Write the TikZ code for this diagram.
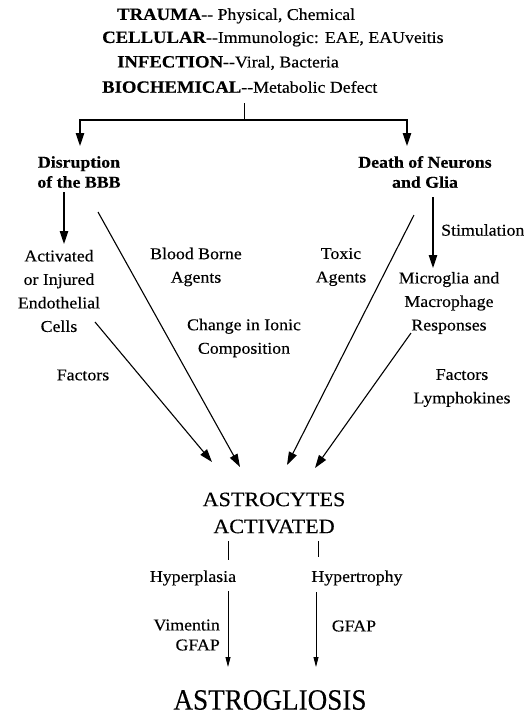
\documentclass[tikz,border=0pt]{standalone}
\usepackage{fontspec}
\setmainfont{Liberation Serif}
\newfontfamily\widefont[FakeStretch=1.08,FakeBold=0.3]{Liberation Serif}
\newfontfamily\narrowfont[FakeStretch=0.92,FakeBold=0.3]{Liberation Serif}
\usetikzlibrary{arrows.meta}

% bold heading word of a cause line
\newcommand\capword[1]{{\fontsize{17.3}{20}\selectfont\bfseries #1}}

\tikzset{
  lbl/.style={inner sep=0pt, align=center, font=\widefont\fontsize{16.5}{23.5}\selectfont},
  toprow/.style={lbl, anchor=west},
  headlbl/.style={lbl, font=\widefont\bfseries\fontsize{16.5}{20}\selectfont},
  biglbl/.style={lbl, font=\widefont\fontsize{20.5}{27}\selectfont},
  hugelbl/.style={lbl, font=\narrowfont\fontsize{29.5}{32}\selectfont},
  plain/.style={line width=1pt},
  arr/.style={line width=1.1pt, -{Triangle[length=13pt,width=8.5pt]}},
  thinarr/.style={line width=0.9pt, -{Triangle[length=10pt,width=5pt]}}
}

\begin{document}
\begin{tikzpicture}[x=1pt,y=-1pt]
\useasboundingbox[fill=white] (0,0) rectangle (523,715);

% causes
\node[toprow] (trauma)    at (117,16) {\capword{TRAUMA}-{}- Physical, Chemical};
\node[toprow] (cellular)  at (102,39) {\capword{CELLULAR}-{}-Immunologic: EAE, EAUveitis};
\node[toprow] (infection) at (117,63) {\capword{INFECTION}-{}-Viral, Bacteria};
\node[toprow] (biochem)   at (102,87) {\capword{BIOCHEMICAL}-{}-Metabolic Defect};

% first-level consequences
\node[headlbl] (bbb)   at (79,172)  {Disruption\\of the BBB};
\node[headlbl] (death) at (425,172) {Death of Neurons\\and Glia};

% mediators
\node[lbl] (endo)  at (59,291)  {Activated\\or Injured\\Endothelial\\Cells};
\node[lbl] (blood) at (196,267) {Blood Borne\\Agents};
\node[lbl] (ionic) at (244,338) {Change in Ionic\\Composition};
\node[lbl] (factL) at (83,375)  {Factors};
\node[lbl] (toxic) at (341,267) {Toxic\\Agents};
\node[lbl, anchor=west] (stim) at (441,230) {Stimulation};
\node[lbl] (micro) at (449,303) {Microglia and\\Macrophage\\Responses};
\node[lbl] (factR) at (462,388) {Factors\\Lymphokines};

% outcome
\node[biglbl] (astro)  at (274,513) {ASTROCYTES\\ACTIVATED};
\node[lbl] (hplas)  at (193,578) {Hyperplasia};
\node[lbl] (htroph) at (357,578) {Hypertrophy};
\node[lbl, align=right, anchor=east, font=\widefont\fontsize{16.5}{20}\selectfont] (vim) at (220,635) {Vimentin\\GFAP};
\node[lbl] (gfapR) at (354,626) {GFAP};
\node[hugelbl] (gliosis) at (270,700) {ASTROGLIOSIS};

% connection points
\coordinate (forkTop)   at (244,103);
\coordinate (fork)      at (244,120);
\coordinate (toBBB)     at (80,146);
\coordinate (toDeath)   at (407,146);
\coordinate (bbbDown)   at (64,192);
\coordinate (endoTop)   at (64,244);
\coordinate (bbbDiag)   at (98,212);
\coordinate (cellsOut)  at (95,322);
\coordinate (deathDiag) at (414,215);
\coordinate (deathDown) at (433,197);
\coordinate (microTop)  at (433,268);
\coordinate (respOut)   at (411,333);
\coordinate (tipA)      at (212,462);
\coordinate (tipB)      at (240,467);
\coordinate (tipC)      at (287,465);
\coordinate (tipD)      at (315,468);
\coordinate (tickL)     at (228,541);
\coordinate (tickLb)    at (228,560);
\coordinate (tickR)     at (318,541);
\coordinate (tickRb)    at (318,557);
\coordinate (plasTop)   at (228,591);
\coordinate (plasTip)   at (228,667);
\coordinate (trophTop)  at (316,592);
\coordinate (trophTip)  at (316,667);

% branching from the causes
\draw[plain] (forkTop) -- (fork);
\draw[arr] (fork) -| (toBBB);
\draw[arr] (fork) -| (toDeath);

% routes to the astrocytes
\draw[arr] (bbbDown) -- (endoTop);
\draw[arr] (deathDown) -- (microTop);
\draw[arr] (cellsOut) -- (tipA);
\draw[arr] (bbbDiag) -- (tipB);
\draw[arr] (deathDiag) -- (tipC);
\draw[arr] (respOut) -- (tipD);

% astrocyte responses
\draw[plain] (tickL) -- (tickLb);
\draw[plain] (tickR) -- (tickRb);
\draw[thinarr] (plasTop) -- (plasTip);
\draw[thinarr] (trophTop) -- (trophTip);
\end{tikzpicture}
\end{document}
